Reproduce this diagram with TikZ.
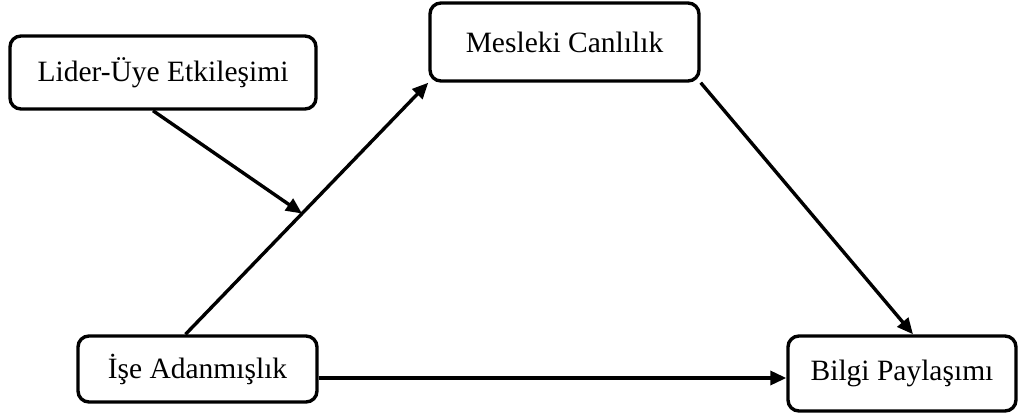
\documentclass[tikz,border=0pt]{standalone}
\usepackage{fontspec}
\setmainfont{Liberation Serif}
\usetikzlibrary{arrows.meta,calc}
\begin{document}
\begin{tikzpicture}[x=1pt,y=-1pt,
  box/.style={draw=black, line width=3.4pt, rounded corners=11pt, rectangle,
    inner sep=0pt, font=\fontsize{29.5}{34}\selectfont},
  link/.style={line width=3.4pt, -{Triangle[length=16pt,width=14pt]}}]
  \useasboundingbox (0,0) rectangle (1020,415);

  % constructs
  \node[box, minimum width=306pt, minimum height=73pt] (lider) at (163,72.5) {Lider-Üye Etkileşimi};
  \node[box, minimum width=269pt, minimum height=78pt] (mes) at (564.5,42) {Mesleki Canlılık};
  \node[box, minimum width=239pt, minimum height=66pt] (ise) at (197.5,369) {İşe Adanmışlık};
  \node[box, minimum width=228pt, minimum height=75pt] (bil) at (902,373.5) {Bilgi Paylaşımı};

  % paths
  \coordinate (iseTop) at ([xshift=-12pt]ise.north);
  \path (iseTop) -- (mes.south west) coordinate[pos=0.48] (mod);
  \draw[link] (iseTop) -- (mes.south west);
  \draw[link] ([xshift=-10pt]lider.south) -- (mod);
  \draw[link] (mes.south east) -- ([xshift=11pt]bil.north);
  \draw[link] ([yshift=-9pt]ise.east) -- ([yshift=-4.5pt]bil.west);
\end{tikzpicture}
\end{document}
